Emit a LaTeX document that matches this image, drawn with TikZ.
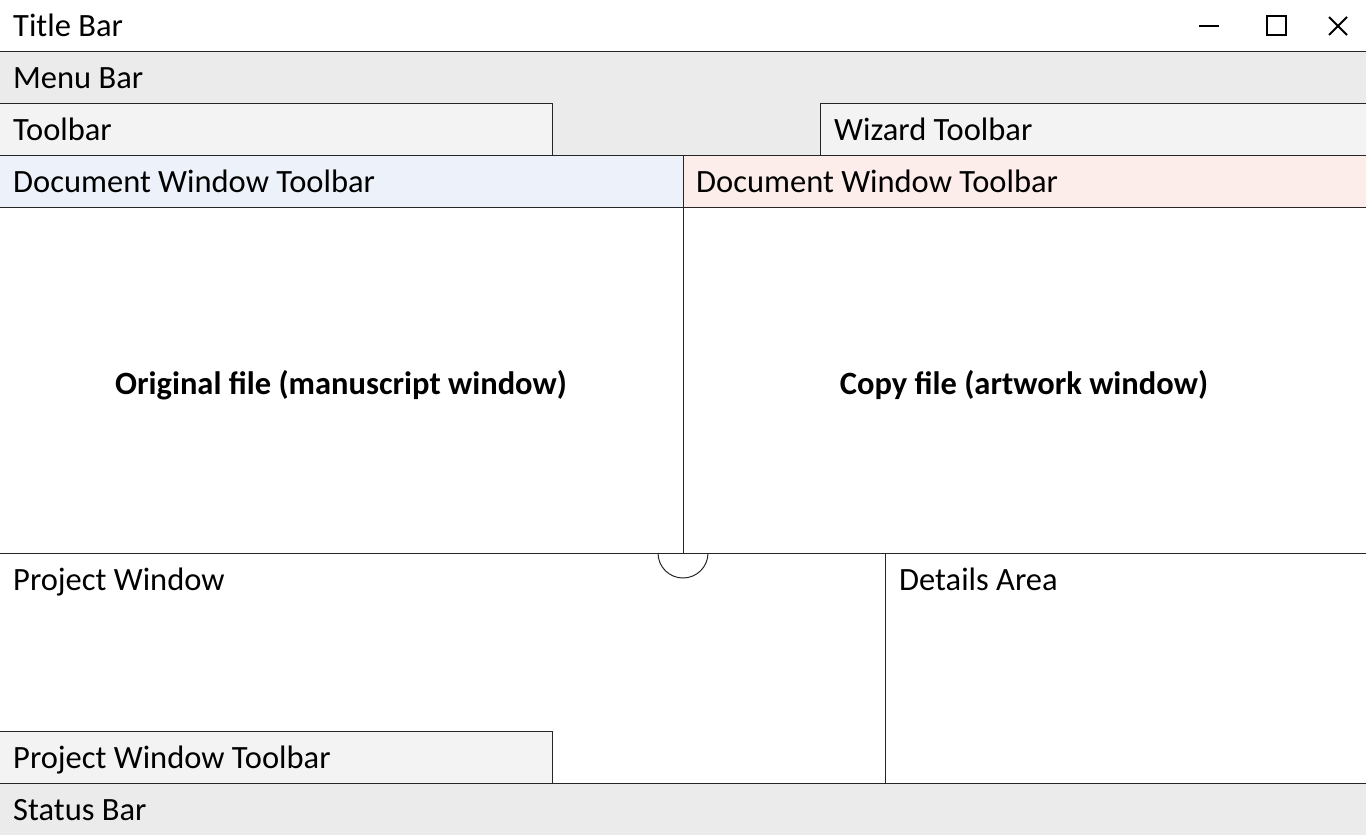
\documentclass[tikz,border=0pt]{standalone}
\usepackage{fontspec}
\setmainfont{Carlito}
\usepackage{xcolor}

\definecolor{menugray}{HTML}{EBEBEB}
\definecolor{toolgray}{HTML}{F3F3F3}
\definecolor{docblue}{HTML}{EDF1FA}
\definecolor{docpink}{HTML}{FDEDEA}

\tikzset{
    barlabel/.style={anchor=base west, inner sep=0pt, font=\fontsize{32.5}{38}\selectfont},
    arealabel/.style={anchor=base, inner sep=0pt, font=\fontsize{32.5}{38}\selectfont\bfseries},
    edge/.style={draw=black!85, line width=1pt}
}

\begin{document}
\begin{tikzpicture}[x=1pt,y=-1pt]
    \useasboundingbox (0,0) rectangle (1366,835);

    % Bars
    \fill[menugray] (0,51) rectangle (1366,155);
    \fill[menugray] (0,783) rectangle (1366,835);
    \filldraw[toolgray,edge] (-1,103) rectangle (552,155);
    \filldraw[toolgray,edge] (820,103) rectangle (1367,155);
    \filldraw[docblue,edge] (-1,155) rectangle (683,207);
    \filldraw[docpink,edge] (683,155) rectangle (1367,207);
    \filldraw[toolgray,edge] (-1,731) rectangle (552,783);

    % Dividers
    \draw[edge] (0,51) -- (1366,51);
    \draw[edge] (683,207) -- (683,553);
    \draw[edge] (0,553) -- (1366,553);
    \draw[edge] (885,553) -- (885,783);
    \draw[edge] (0,783) -- (1366,783);
    \draw[edge] (658,553) arc[start angle=180, end angle=0, radius=25];

    % Labels
    \node[barlabel] (title) at (13,36) {Title Bar};
    \node[barlabel] (menu) at (13,88) {Menu Bar};
    \node[barlabel] (tools) at (13,140) {Toolbar};
    \node[barlabel] (wizard) at (834,140) {Wizard Toolbar};
    \node[barlabel] (docleft) at (13,192) {Document Window Toolbar};
    \node[barlabel] (docright) at (696,192) {Document Window Toolbar};
    \node[barlabel] (project) at (13,590) {Project Window};
    \node[barlabel] (details) at (899,590) {Details Area};
    \node[barlabel] (projtools) at (13,768) {Project Window Toolbar};
    \node[barlabel] (status) at (13,820) {Status Bar};
    \node[arealabel] (original) at (341,394) {Original file (manuscript window)};
    \node[arealabel] (copy) at (1024,394) {Copy file (artwork window)};

    % Window buttons
    \draw[line width=2pt] (1199,26) -- (1219,26);
    \draw[line width=2pt] (1267,16) rectangle (1286,35);
    \draw[line width=2pt] (1329,17) -- (1347,35);
    \draw[line width=2pt] (1347,17) -- (1329,35);
\end{tikzpicture}
\end{document}
